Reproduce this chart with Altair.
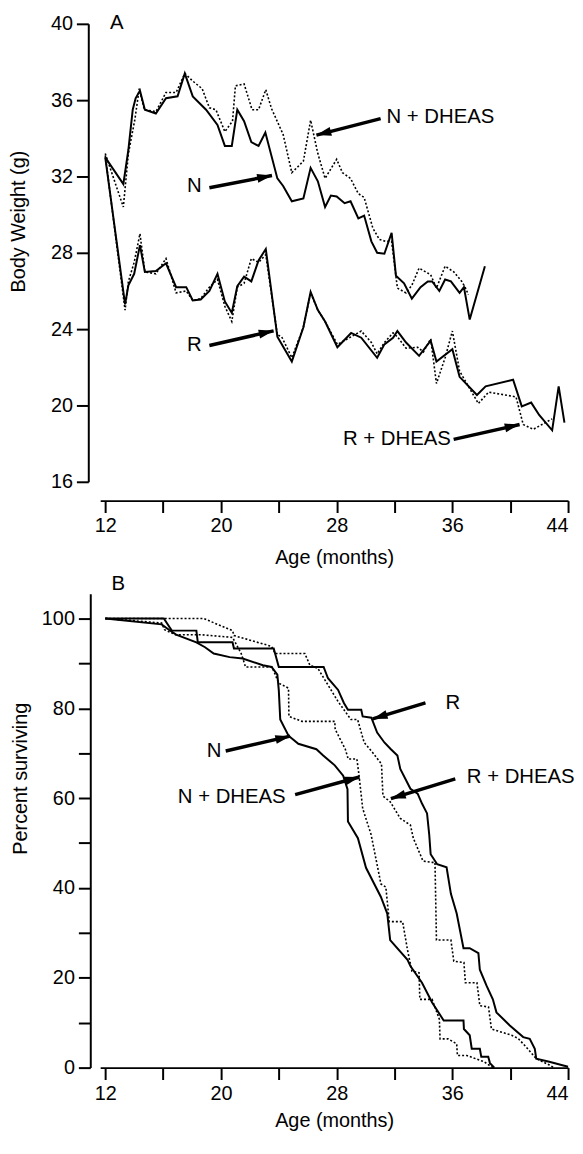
import math
import altair as alt
import pandas as pd

FONT = "Liberation Sans"

# ---------------- Panel A: body weight (g) vs age (months)
n_age = [12.0, 13.25, 13.6, 13.9, 14.1, 14.4, 14.74, 15.5, 16.2, 17.0, 17.5, 18.05, 18.97, 19.76,
         20.27, 20.75, 21.13, 21.6, 22.1, 22.6, 23.07, 23.9, 24.3, 24.9, 25.7, 26.2, 26.7, 27.2,
         27.6, 28.0, 28.55, 28.96, 29.5, 29.9, 30.4, 30.8, 31.3, 31.8, 32.1, 32.66, 33.2, 33.8,
         34.3, 34.6, 35.1, 35.5, 35.9, 36.5, 36.8, 37.2, 38.25]
n_wt = [33.0, 31.6, 33.4, 35.5, 36.1, 36.5, 35.5, 35.3, 36.1, 36.2, 37.4, 36.2, 35.5, 34.7,
        33.6, 33.6, 35.5, 34.9, 33.8, 33.6, 34.3, 31.9, 31.5, 30.7, 30.85, 32.45, 31.75, 30.4,
        31.0, 30.95, 30.6, 30.7, 29.8, 29.95, 28.6, 28.0, 27.95, 29.05, 26.8, 26.4, 25.6, 26.2,
        26.5, 26.5, 26.0, 26.6, 26.5, 25.9, 26.2, 24.5, 27.3]

nd_age = [12.0, 13.25, 13.6, 14.05, 14.35, 14.7, 15.5, 16.2, 16.9, 17.5, 18.05, 18.7, 19.2, 19.65,
          20.27, 20.8, 21.0, 21.6, 22.15, 22.6, 23.1, 23.5, 24.3, 24.9, 25.7, 26.2, 26.7, 27.2,
          28.0, 28.4, 28.96, 29.5, 29.9, 30.5, 30.95, 31.4, 31.8, 32.2, 32.8, 33.2, 33.7, 34.5,
          34.9, 35.5, 36.1, 36.65, 36.95, 37.1]
nd_wt = [33.2, 30.4, 33.2, 35.0, 36.6, 35.5, 35.4, 36.4, 36.4, 37.4, 37.0, 36.6, 35.6, 35.5,
         34.35, 34.9, 36.75, 36.85, 35.5, 35.5, 36.55, 35.55, 34.2, 32.2, 32.8, 34.95, 33.2, 31.9,
         32.9, 32.2, 31.9, 31.1, 30.9, 29.3, 28.7, 28.6, 28.6, 26.15, 25.9, 26.3, 27.2, 26.85,
         26.15, 27.3, 27.0, 26.5, 26.1, 25.8]

r_age = [12.0, 13.37, 13.6, 14.0, 14.4, 14.74, 15.5, 16.2, 16.9, 17.6, 18.05, 18.6, 19.2, 19.76,
         20.27, 20.75, 21.13, 21.6, 22.1, 22.6, 23.1, 23.9, 24.9, 25.7, 26.2, 26.7, 27.2, 28.05,
         29.0, 29.7, 30.8, 31.3, 31.9, 32.2, 32.8, 33.7, 34.5, 34.9, 36.0, 36.5, 37.7, 38.3, 40.2,
         40.8, 41.45, 42.0, 42.9, 43.35, 43.75]
r_wt = [33.0, 25.3, 26.3, 26.9, 28.4, 27.0, 27.05, 27.45, 26.2, 26.2, 25.5, 25.55, 26.0, 26.9,
        25.45, 24.85, 26.25, 26.75, 26.5, 27.6, 28.2, 23.6, 22.3, 24.1, 25.95, 25.0, 24.4, 23.05,
        23.8, 23.55, 22.5, 23.2, 23.55, 23.9, 23.3, 22.6, 23.4, 22.3, 22.95, 21.5, 20.55, 21.0, 21.35,
        19.95, 20.15, 19.5, 18.7, 21.0, 19.1]

rd_age = [12.0, 13.37, 13.6, 14.0, 14.4, 14.74, 15.5, 16.2, 16.9, 17.6, 18.05, 18.6, 19.2, 19.76,
          20.27, 20.75, 21.13, 21.6, 22.1, 22.6, 23.1, 23.9, 24.2, 24.9, 25.7, 26.2, 26.7, 27.2,
          28.05, 29.0, 29.7, 30.4, 30.8, 31.3, 31.9, 32.2, 32.8, 33.6, 34.0, 34.5, 34.9, 35.5,
          36.0, 36.5, 37.8, 38.5, 40.4, 40.9, 41.6, 42.9]
rd_wt = [33.1, 25.0, 26.5, 27.5, 29.0, 27.0, 26.9, 27.7, 25.9, 26.0, 25.5, 25.6, 26.2, 26.6,
         25.2, 24.4, 26.2, 26.4, 27.7, 27.5, 27.9, 23.7, 23.6, 22.5, 24.1, 25.9, 25.0, 24.4,
         23.2, 23.6, 23.9, 23.3, 22.7, 23.3, 23.8, 23.6, 23.0, 23.05, 22.8, 23.5, 21.15, 22.5,
         23.9, 21.8, 20.1, 20.7, 20.45, 19.0, 18.75, 19.3]

# ---------------- Panel B: percent surviving vs age (months)
sn_age = [12, 15.9, 16.4, 16.9, 18.3, 18.9, 19.5, 20.6, 21.5, 22.9, 23.5, 23.9, 24.0, 24.1, 24.67,
          25.35, 26.6, 27.07, 27.87, 28.45, 28.75, 28.78, 29.47, 30.03, 31.06, 31.5, 31.7, 32.9,
          33.1, 33.9, 34.6, 35.4, 36.77, 36.8, 37.2, 37.34, 37.9, 38.0, 38.48, 38.6, 38.9]
sn_pct = [100, 98.7, 97.5, 96.4, 94.7, 93.6, 92.2, 91.4, 91.1, 89.6, 89.2, 87.5, 84, 77.5, 73.9,
          72.1, 70.9, 69.5, 67.3, 65.0, 62, 54.8, 51.1, 44.5, 38.0, 34.3, 28.4, 24.0,
          22.6, 18.9, 14.5, 10.5, 10.5, 8.6, 7.2, 4.2, 4.2, 2.4, 2.4, 1.0, 0]

snd_age = [12, 15.9, 16.1, 16.85, 18.6, 20.8, 21.4, 21.7, 23.53, 24.0, 24.67, 24.7, 25.6, 27.87,
           27.9, 28.6, 28.8, 29.4, 29.55, 29.8, 30.38, 30.84, 31.06, 31.4, 31.64, 32.56, 32.9,
           33.2, 33.7, 33.75, 34.6, 35.1, 35.15, 35.7, 36.3, 36.35, 37.0, 37.6, 38.2, 38.7, 38.9]
snd_pct = [100, 99, 97.5, 96.4, 96.4, 95.8, 92.2, 89.2, 89.2, 85.6, 84.5, 78.2, 77.1, 77.1,
           75.3, 70.9, 68.7, 68.7, 65, 57.7, 51.9, 44.5, 40.9, 40.2, 32.5, 32.5, 26.2,
           21.5, 21.1, 15.2, 15.2, 10.8, 6.4, 6.4, 5.3, 2.7, 2.7, 2.0, 1.3, 0.2, 0]

sr_age = [12, 16.05, 16.6, 18.3, 18.4, 20.8, 20.9, 23.65, 24.0, 27.1, 27.4, 28.1, 28.5, 28.78,
          29.7, 29.8, 30.4, 30.8, 31.3, 31.75, 32.2, 32.4, 33.1, 33.6, 33.9, 34.25, 34.4, 34.5,
          34.95, 35.6, 35.9, 36.3, 36.77, 37.2, 37.8, 37.9, 38.37, 38.8, 39.05, 39.97, 40.9, 41.35,
          41.7, 41.8, 42.7, 44.0]
sr_pct = [100, 100, 97.3, 97.3, 94.7, 94.7, 93.3, 93.3, 89.2, 89.2, 86.7, 84.1, 81.2, 79.7,
          79.7, 78.2, 77.9, 74.6, 72.4, 70.9, 69.5, 66.5, 62.1, 61.0, 58.8, 56.6, 51.9, 47.5,
          45.3, 44.6, 38.7, 34.3, 26.6, 26.6, 25.5, 21.8, 18.2, 15.2, 12.3, 9.4, 6.8, 6.4,
          4.2, 2.0, 1.3, 0.2]

srd_age = [12, 18.8, 20.8, 20.9, 23.5, 23.75, 25.8, 26.15, 26.7, 28.1, 28.99, 29.45, 29.9, 30.5,
           31.1, 31.2, 31.7, 32.4, 33.1, 33.3, 33.97, 34.6, 34.8, 34.9, 35.9, 36.1, 36.8, 36.9,
           37.7, 37.9, 38.5, 38.7, 40.1, 40.55, 41.1, 41.8, 42.7, 43.0]
srd_pct = [100, 100, 97.3, 96.2, 93.8, 92.2, 92.2, 89.6, 88.9, 81.5, 77.5, 77.5, 72.4, 70.1,
           67.6, 60.5, 59.2, 55.5, 54.0, 51.1, 46.0, 45.7, 45.7, 28.4, 28.4, 23.7, 23.4, 18.9,
           18.9, 13.8, 13.5, 8.6, 7.2, 6.5, 4.6, 2.0, 0.6, 0]

# ---------------- annotations
# panel letter "B" is positioned (below panel A's axis) in panel A's coordinates
a_text = ["N + DHEAS", "N", "R", "R + DHEAS", "A", "B"]
a_tx = [31.45, 18.16, 18.16, 28.44, 12.8, 12.9]
a_ty = [35.14, 31.5, 23.14, 18.22, 40.05, 10.62]
a_align = ["left", "center", "center", "left", "center", "center"]
a_tail_x = [31.04, 19.2, 19.2, 36.09]
a_tail_y = [35.03, 31.41, 23.14, 18.22]
a_tip_x = [26.6, 23.53, 23.64, 40.65]
a_tip_y = [34.17, 32.05, 23.91, 19.0]

b_text = ["R", "R + DHEAS", "N", "N + DHEAS"]
b_tx = [36.04, 37.0, 19.53, 17.02]
b_ty = [81.2, 64.8, 70.5, 60.3]
b_align = ["center", "left", "center", "left"]
b_tail_x = [34.14, 36.2, 20.33, 25.13]
b_tail_y = [81.2, 64.3, 70.5, 60.8]
b_tip_x = [30.49, 31.75, 24.79, 29.58]
b_tip_y = [77.65, 59.9, 73.8, 64.7]

XDOM = [11.65, 44]
W = 472
HA, HB = 462, 478
YA = [16, 40]
YB = [0, 105.5]
ARROW = "M 0 0 L -1 -0.3 L -1 0.3 Z"


def series_df(pairs):
    rows = []
    for name, xs, ys in pairs:
        for i, (x, y) in enumerate(zip(xs, ys)):
            rows.append({"s": name, "x": x, "y": y, "o": i})
    return pd.DataFrame(rows)


def arrows_df(tx, ty, hx, hy, ydom, h):
    pxx = W / (XDOM[1] - XDOM[0])
    pxy = h / (ydom[1] - ydom[0])
    rows = []
    for a, b, c, d in zip(tx, ty, hx, hy):
        dx = (c - a) * pxx
        dy = -(d - b) * pxy
        ang = math.degrees(math.atan2(dy, dx)) % 360
        rows.append({"x": a, "y": b, "x2": c, "y2": d, "ang": ang})
    return pd.DataFrame(rows)


def panel(solid, dotted, texts, tx, ty, align, arr, ydom, h, yaxis, xaxis, ytitle):
    xs = alt.X("x:Q", scale=alt.Scale(domain=XDOM, nice=False, zero=False), axis=xaxis,
               title="Age (months)")
    ys = alt.Y("y:Q", scale=alt.Scale(domain=ydom, nice=False, zero=False), axis=yaxis,
               title=ytitle)
    l1 = alt.Chart(series_df(solid)).mark_line(color="black", strokeWidth=2).encode(
        x=xs, y=ys, detail="s:N", order="o:Q")
    l2 = alt.Chart(series_df(dotted)).mark_line(color="black", strokeWidth=1.6,
                                                strokeDash=[2, 2]).encode(
        x="x:Q", y="y:Q", detail="s:N", order="o:Q")
    tdf = pd.DataFrame({"t": texts, "x": tx, "y": ty, "al": align})
    t_left = alt.Chart(tdf[tdf.al == "left"]).mark_text(
        font=FONT, fontSize=20.5, align="left", baseline="middle", color="black").encode(
        x="x:Q", y="y:Q", text="t:N")
    t_center = alt.Chart(tdf[tdf.al == "center"]).mark_text(
        font=FONT, fontSize=20.5, align="center", baseline="middle", color="black").encode(
        x="x:Q", y="y:Q", text="t:N")
    ar = alt.Chart(arr).mark_rule(color="black", strokeWidth=3.5).encode(
        x="x:Q", y="y:Q", x2="x2:Q", y2="y2:Q")
    heads = alt.Chart(arr).mark_point(shape=ARROW, filled=True, color="black", opacity=1,
                                      size=900, strokeWidth=0).encode(
        x="x2:Q", y="y2:Q", angle=alt.Angle("ang:Q", scale=None))
    return alt.layer(l1, l2, ar, heads, t_left, t_center).properties(width=W, height=h)


common = dict(domainColor="black", tickColor="black", labelColor="black", titleColor="black",
              domainWidth=2, tickWidth=2, tickSize=12, labelFont=FONT, titleFont=FONT,
              labelFontSize=20, titleFontSize=20, titleFontWeight="normal", grid=False)

XLAB = "datum.value % 8 == 0 ? '' : datum.label"
xaxis_a = alt.Axis(values=[12, 16, 20, 24, 28, 32, 36, 40, 44], offset=19, labelPadding=3,
                   titlePadding=12, labelExpr=XLAB, **common)
yaxis_a = alt.Axis(values=[16, 20, 24, 28, 32, 36, 40], offset=12, labelPadding=4,
                   minExtent=50, maxExtent=50, titleX=-60, titleY=199, **common)
xaxis_b = alt.Axis(values=[12, 16, 20, 24, 28, 32, 36, 40, 44], offset=0, labelPadding=4,
                   titlePadding=7, labelExpr=XLAB, **common)
yaxis_b = alt.Axis(values=[0, 10, 20, 30, 40, 50, 60, 70, 80, 90, 100], offset=10,
                   labelPadding=4, minExtent=50, maxExtent=50, titleX=-60, titleY=186,
                   labelExpr="datum.value % 20 == 10 ? '' : datum.label", **common)

top = panel(
    [("N", n_age, n_wt), ("R", r_age, r_wt)],
    [("N + DHEAS", nd_age, nd_wt), ("R + DHEAS", rd_age, rd_wt)],
    a_text, a_tx, a_ty, a_align,
    arrows_df(a_tail_x, a_tail_y, a_tip_x, a_tip_y, YA, HA),
    YA, HA, yaxis_a, xaxis_a, "Body Weight (g)")

bottom = panel(
    [("N", sn_age, sn_pct), ("R", sr_age, sr_pct)],
    [("N + DHEAS", snd_age, snd_pct), ("R + DHEAS", srd_age, srd_pct)],
    b_text, b_tx, b_ty, b_align,
    arrows_df(b_tail_x, b_tail_y, b_tip_x, b_tip_y, YB, HB),
    YB, HB, yaxis_b, xaxis_b, "Percent surviving")

chart = alt.vconcat(top, bottom, spacing=113, bounds="flush").configure_view(
    stroke=None).properties(padding={"left": 1, "top": 0, "right": 0, "bottom": 0},
                            background="white")

chart.save("out.html", embed_options={"renderer": "svg", "actions": False})
